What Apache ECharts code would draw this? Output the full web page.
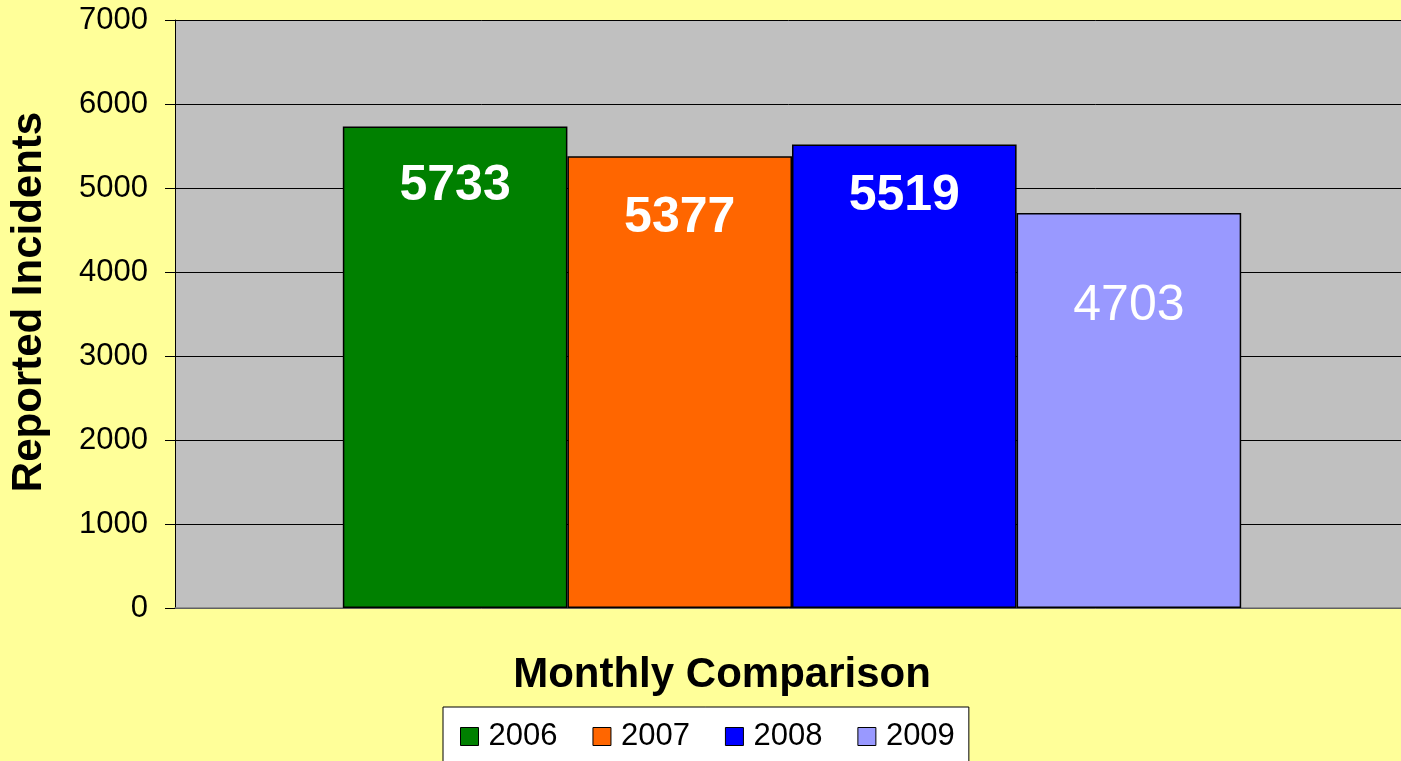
<!DOCTYPE html>
<html>
<head>
<meta charset="utf-8">
<script src="https://cdn.jsdelivr.net/npm/echarts@6/dist/echarts.min.js"></script>
<style>
html,body{margin:0;padding:0;background:#FFFF99;}
#c{width:1401px;height:761px;}
</style>
</head>
<body>
<div id="c"></div>
<script>
const categories = ['Monthly Comparison'];
const seriesNames = ['2006', '2007', '2008', '2009'];
const values2006 = [5733];
const values2007 = [5377];
const values2008 = [5519];
const values2009 = [4703];
const yTicks = [0, 1000, 2000, 3000, 4000, 5000, 6000, 7000];

const allValues = [values2006, values2007, values2008, values2009];
const colors = ['#008000', '#FF6600', '#0000FF', '#9999FF'];
const labelDrop = [35, 37, 27, 68];
const labelBold = ['bold', 'bold', 'bold', 'normal'];
const FONT = '"Liberation Sans", Arial, sans-serif';

const chart = echarts.init(document.getElementById('c'), null, {renderer: 'canvas'});

const series = seriesNames.map((name, i) => ({
  name: name,
  type: 'bar',
  data: allValues[i],
  barGap: '0%',
  barCategoryGap: '27.2%',
  itemStyle: {color: colors[i], borderColor: '#000', borderWidth: 1.5},
  label: {
    show: true,
    position: 'insideTop',
    distance: labelDrop[i],
    color: '#fff',
    fontFamily: FONT,
    fontSize: 50,
    fontWeight: labelBold[i]
  },
  emphasis: {disabled: true}
}));

chart.setOption({
  backgroundColor: '#FFFF99',
  animation: false,
  grid: {
    left: 175, top: 20, right: -8, bottom: 153,
    outerBoundsMode: 'none',
    containLabel: false,
    show: true, backgroundColor: '#C0C0C0', borderWidth: 0
  },
  legend: {
    data: seriesNames,
    left: 443, top: 707,
    orient: 'horizontal',
    backgroundColor: '#FFFFFF',
    borderColor: '#000',
    borderWidth: 1,
    padding: [14, 14, 14, 17],
    itemWidth: 18, itemHeight: 18,
    itemGap: 35,
    icon: 'rect',
    itemStyle: {borderColor: '#000', borderWidth: 1},
    textStyle: {fontFamily: FONT, fontSize: 31, color: '#000', padding: [0, 0, 0, 5]}
  },
  xAxis: {
    type: 'category',
    data: categories,
    axisLine: {show: true, lineStyle: {color: '#808080', width: 1.5}},
    axisTick: {show: false},
    axisLabel: {show: false},
    splitLine: {show: false}
  },
  yAxis: {
    type: 'value',
    min: yTicks[0],
    max: yTicks[yTicks.length - 1],
    interval: yTicks[1] - yTicks[0],
    axisLine: {show: true, lineStyle: {color: '#000', width: 1}},
    axisTick: {show: true, length: 10, lineStyle: {color: '#000', width: 1}},
    axisLabel: {fontFamily: FONT, fontSize: 31, color: '#000', margin: 27,
      formatter: v => String(v)},
    splitLine: {show: true, lineStyle: {color: '#000', width: 1}}
  },
  graphic: [
    {
      type: 'text',
      x: 722, y: 675,
      style: {
        text: 'Monthly Comparison',
        font: 'bold 42px ' + FONT,
        fill: '#000',
        align: 'center',
        verticalAlign: 'middle'
      }
    },
    {
      type: 'text',
      x: 29, y: 302,
      rotation: Math.PI / 2,
      style: {
        text: 'Reported Incidents',
        font: 'bold 42px ' + FONT,
        fill: '#000',
        align: 'center',
        verticalAlign: 'middle'
      }
    }
  ],
  series: series
});
</script>
</body>
</html>
